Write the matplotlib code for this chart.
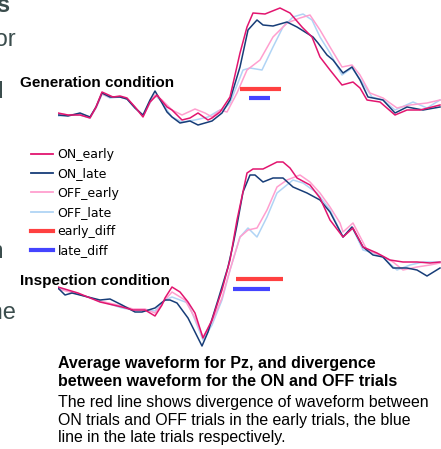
import matplotlib.pyplot as plt
from matplotlib.lines import Line2D

# Waveforms: time in samples, amplitude in arbitrary units
# --- Generation condition (top panel)
gen_on_early_t = [0, 10, 22, 32, 38, 44, 55, 62, 69, 77, 85, 92, 99, 104, 109, 114, 124, 132, 140, 150, 154, 162,
                  172, 182, 189, 195, 207, 222, 232, 244, 254, 262, 272, 284, 295, 302, 309, 322, 337, 349, 362, 382]
gen_on_early_a = [2, 0, 0, -3, 8, 23, 18, 19, 17, 8, -2, 13, 20, 14, 8, 5, -5, -3, 2, -5, -3, 3,
                  18, 62, 88, 102, 101, 107, 102, 88, 78, 58, 45, 30, 33, 27, 15, 13, 0, 5, 5, 10]

gen_on_late_t = [0, 10, 22, 32, 38, 44, 52, 62, 69, 77, 85, 92, 97, 104, 109, 114, 122, 132, 140, 154, 164,
                 172, 182, 190, 199, 205, 215, 229, 239, 247, 255, 260, 269, 275, 285, 294, 302, 310, 325, 337, 349, 365, 382]
gen_on_late_a = [0, -1, 2, -2, 8, 22, 18, 18, 16, 7, 0, 15, 24, 12, 3, -2, -8, -6, -10, -6, 2,
                 15, 48, 85, 95, 90, 89, 93, 88, 83, 78, 72, 60, 55, 42, 48, 35, 18, 15, 2, 8, 5, 8]

gen_off_early_t = [0, 10, 22, 32, 38, 44, 52, 62, 69, 77, 85, 92, 97, 104, 107, 114, 124, 137, 147, 154, 162,
                   169, 179, 189, 202, 215, 229, 242, 252, 262, 272, 284, 294, 302, 312, 325, 339, 352, 369, 382]
gen_off_early_a = [1, 0, 1, -2, 7, 21, 18, 18, 16, 8, -1, 13, 20, 15, 12, 5, 0, 6, 2, -2, 5,
                   3, 22, 45, 55, 78, 92, 97, 100, 85, 68, 48, 50, 40, 22, 17, 7, 10, 12, 15]

gen_off_late_t = [0, 10, 22, 32, 38, 44, 52, 62, 69, 77, 85, 92, 97, 104, 109, 114, 124, 137, 150, 160, 167,
                  172, 185, 192, 204, 215, 225, 235, 245, 254, 262, 272, 284, 294, 304, 314, 325, 337, 355, 369, 382]
gen_off_late_a = [-1, 0, 0, -3, 7, 21, 17, 18, 16, 7, -1, 12, 20, 13, 5, -2, -7, -5, -2, 4, 7,
                  12, 45, 47, 45, 68, 88, 98, 101, 95, 78, 62, 40, 47, 33, 18, 15, 5, 13, 7, 15]

# --- Inspection condition (bottom panel)
ins_on_early_t = [0, 20, 42, 64, 75, 87, 97, 104, 107, 114, 122, 130, 137, 145, 154, 164, 172, 179, 189, 195,
                  205, 219, 225, 232, 239, 252, 262, 272, 285, 295, 305, 319, 332, 345, 359, 372, 382]
ins_on_early_a = [13, 7, -2, -7, -10, -10, -16, -5, 2, 13, 8, -2, -13, -38, -20, 10, 40, 80, 127, 131,
                  131, 138, 138, 132, 122, 115, 102, 80, 63, 72, 53, 47, 40, 38, 38, 37, 38]

ins_on_late_t = [0, 7, 14, 30, 42, 52, 64, 77, 84, 97, 107, 112, 119, 130, 137, 144, 150, 160, 170, 175, 179,
                 185, 192, 197, 205, 215, 225, 235, 249, 262, 272, 285, 294, 305, 315, 325, 335, 349, 359, 369, 382]
ins_on_late_a = [12, 5, 7, 3, 0, 1, -5, -12, -12, -8, 0, 0, -3, -18, -32, -46, -32, 0, 33, 55, 75,
                 108, 125, 125, 118, 122, 122, 113, 107, 100, 88, 63, 73, 53, 45, 43, 32, 32, 30, 24, 32]

ins_off_early_t = [0, 20, 42, 64, 75, 87, 97, 107, 114, 127, 137, 145, 154, 164, 172, 182, 190, 199, 209, 219,
                   229, 242, 252, 262, 272, 282, 285, 295, 309, 322, 335, 345, 359, 372, 382]
ins_off_early_a = [11, 6, -1, -6, -9, -9, -13, 0, 8, 0, -18, -37, -22, 2, 30, 63, 70, 72, 90, 113,
                   120, 125, 118, 107, 93, 77, 68, 77, 50, 45, 38, 30, 33, 35, 37]

ins_off_late_t = [0, 20, 42, 64, 75, 87, 97, 107, 114, 130, 137, 145, 154, 164, 172, 182, 190, 199, 209, 219,
                  235, 245, 259, 272, 285, 294, 305, 322, 339, 352, 365, 382]
ins_off_late_a = [12, 6, -1, -8, -10, -10, -11, 0, 3, -3, -20, -40, -25, 0, 30, 63, 72, 63, 83, 107,
                  120, 117, 107, 90, 63, 73, 50, 45, 30, 35, 38, 38]

# divergence windows (start, end, level)
gen_early_diff = [182, 223, 26]
gen_late_diff = [191, 212, 17]
ins_early_diff = [178, 225, 21]
ins_late_diff = [175, 212, 11]

labels = ["ON_early", "ON_late", "OFF_early", "OFF_late", "early_diff", "late_diff"]
colors = ["#e2156f", "#173d78", "#ff9fcf", "#b0d4f5", "#ff4040", "#4444ff"]

W, H = 441, 449
fig = plt.figure(figsize=(W / 100, H / 100), dpi=100)

def px_axes(x0, y0, x1, y1):
    return fig.add_axes([x0 / W, 1 - y1 / H, (x1 - x0) / W, (y1 - y0) / H])

ax_gen = px_axes(58, 0, 441, 135)
ax_ins = px_axes(58, 150, 441, 355)

gen = [(gen_on_early_t, gen_on_early_a), (gen_on_late_t, gen_on_late_a),
       (gen_off_early_t, gen_off_early_a), (gen_off_late_t, gen_off_late_a)]
ins = [(ins_on_early_t, ins_on_early_a), (ins_on_late_t, ins_on_late_a),
       (ins_off_early_t, ins_off_early_a), (ins_off_late_t, ins_off_late_a)]
order = [3, 2, 1, 0]  # draw OFF lines below ON lines

for ax, series, ed, ld in [(ax_gen, gen, gen_early_diff, gen_late_diff),
                           (ax_ins, ins, ins_early_diff, ins_late_diff)]:
    for i in order:
        t, a = series[i]
        ax.plot(t, a, color=colors[i], lw=1.1, solid_joinstyle='round')
    ax.plot(ed[:2], [ed[2]] * 2, color=colors[4], lw=3, solid_capstyle='butt')
    ax.plot(ld[:2], [ld[2]] * 2, color=colors[5], lw=3, solid_capstyle='butt')
    ax.set_xlim(0, 383)
    ax.axis('off')

ax_gen.set_ylim(-20, 115)
ax_ins.set_ylim(-55, 150)

fig.text(20 / W, 1 - 83 / H, "Generation condition", fontsize=11, fontweight='bold',
         family='Liberation Sans', va='center')
fig.text(20 / W, 1 - 281 / H, "Inspection condition", fontsize=11, fontweight='bold',
         family='Liberation Sans', va='center')

handles = [Line2D([], [], color=c, lw=(3 if k >= 4 else 1.3)) for k, c in enumerate(colors)]
fig.legend(handles, labels, loc='upper left', bbox_to_anchor=(20 / W, 1 - 137 / H), frameon=False,
           fontsize=9, handlelength=1.7, handletextpad=0.4, labelspacing=0.5)

# caption
fig.text(58 / W, 1 - 372.5 / H, "Average waveform for Pz, and divergence\n"
         "between waveform for the ON and OFF trials", fontsize=11.5, fontweight='bold',
         family='Liberation Sans', va='center', linespacing=1.2)
fig.text(58 / W, 1 - 420 / H, "The red line shows divergence of waveform between\n"
         "ON trials and OFF trials in the early trials, the blue\n"
         "line in the late trials respectively.", fontsize=11.4,
         family='Liberation Sans', va='center', linespacing=1.2)

# cut-off words from the neighbouring column
side = "#3b4d4d"
fig.text(11 / W, 1 - 6 / H, "ts", fontsize=17, fontweight='bold', color=side, ha='right', va='center',
         family='Liberation Sans')
fig.text(16 / W, 1 - 40 / H, "for", fontsize=17, color=side, ha='right', va='center', family='Liberation Sans')
fig.text(4 / W, 1 - 92 / H, "ld", fontsize=17, color=side, ha='right', va='center', family='Liberation Sans')
fig.text(4 / W, 1 - 252 / H, "in", fontsize=17, color=side, ha='right', va='center', family='Liberation Sans')
fig.text(16 / W, 1 - 313 / H, "the", fontsize=17, color=side, ha='right', va='center', family='Liberation Sans')

fig.savefig("out.png", dpi=100)
